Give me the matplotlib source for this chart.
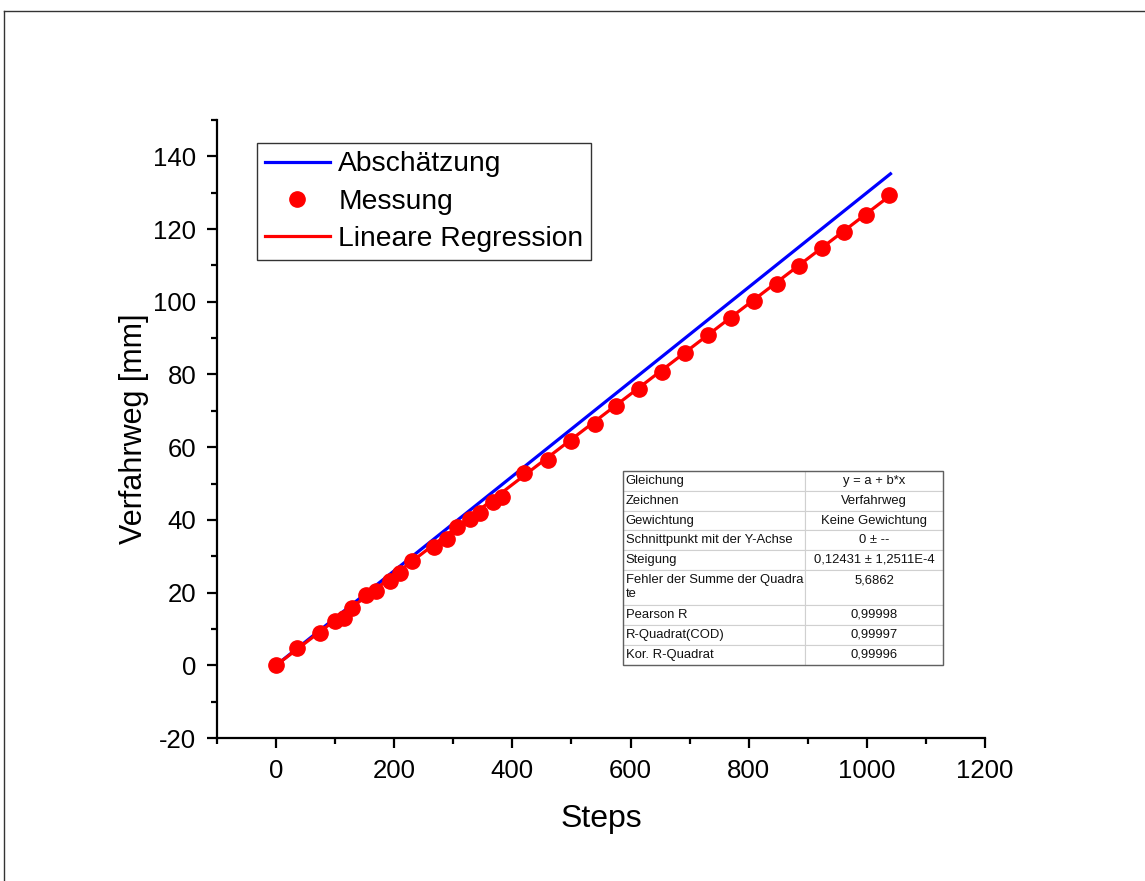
import matplotlib
matplotlib.use("Agg")
import matplotlib.pyplot as plt
from matplotlib.ticker import MultipleLocator
from matplotlib.lines import Line2D
from matplotlib.patches import Rectangle

plt.rcParams['font.family'] = ['Liberation Sans', 'DejaVu Sans']
plt.rcParams['axes.unicode_minus'] = False

# --- data ---
steps = [0, 35.6, 74.6, 100, 115, 129, 152.5, 169.5, 193, 210, 230.5, 268, 290, 307,
         329, 346, 368, 383, 420, 461, 500, 539, 576, 615, 652.5, 691.5, 730.5,
         769.5, 808.5, 847.5, 885, 924, 961, 998, 1037]
weg = [0, 4.7, 8.8, 12.2, 13.0, 15.7, 19.3, 20.4, 23.2, 25.4, 28.7, 32.6, 34.8, 38.1,
       40.3, 42.0, 45.0, 46.4, 53.0, 56.6, 61.6, 66.3, 71.2, 75.9, 80.6, 85.8, 90.8,
       95.5, 100.2, 104.9, 109.9, 114.9, 119.3, 124.0, 129.5]
est_x = [0, 1040]
est_y = [0, 135.2]
reg_slope = 0.12431
reg_x = [0, 1040]
reg_y = [reg_slope * v for v in reg_x]

table_labels = ["Gleichung", "Zeichnen", "Gewichtung", "Schnittpunkt mit der Y-Achse",
                "Steigung", "Fehler der Summe der Quadra\nte", "Pearson R",
                "R-Quadrat(COD)", "Kor. R-Quadrat"]
table_values = ["y = a + b*x", "Verfahrweg", "Keine Gewichtung", "0 \u00b1 --",
                "0,12431 \u00b1 1,2511E-4", "5,6862\n", "0,99998", "0,99997", "0,99996"]

W, H = 1145, 881
fig = plt.figure(figsize=(W / 100, H / 100), dpi=100)

# figure frame (top and left edges)
fig.add_artist(Line2D([4 / W, 4 / W], [0, 1 - 11 / H], transform=fig.transFigure,
                      color='#333333', lw=1.0))
fig.add_artist(Line2D([4 / W, 1], [1 - 11 / H, 1 - 11 / H], transform=fig.transFigure,
                      color='#333333', lw=1.0))

ax = fig.add_axes([217 / W, 1 - 738 / H, 768 / W, 618 / H])

ax.plot(est_x, est_y, color='#0000ff', lw=2.3, label='Abschätzung', zorder=3)
ax.plot(steps, weg, linestyle='none', marker='o', ms=11, color='#ff0000',
        label='Messung', zorder=4)
ax.plot(reg_x, reg_y, color='#ff0000', lw=2.3, label='Lineare Regression', zorder=3)

ax.set_xlim(-100, 1200)
ax.set_ylim(-20, 150)
ax.xaxis.set_major_locator(MultipleLocator(200))
ax.xaxis.set_minor_locator(MultipleLocator(100))
ax.yaxis.set_major_locator(MultipleLocator(20))
ax.yaxis.set_minor_locator(MultipleLocator(10))
ax.set_xticks([0, 200, 400, 600, 800, 1000, 1200])
ax.set_yticks([-20, 0, 20, 40, 60, 80, 100, 120, 140])

for s in ['top', 'right']:
    ax.spines[s].set_visible(False)
for s in ['left', 'bottom']:
    ax.spines[s].set_linewidth(1.6)
ax.tick_params(which='major', direction='out', length=7, width=1.6, labelsize=18.5, pad=8)
ax.tick_params(which='minor', direction='out', length=4, width=1.6)

ax.set_xlabel('Steps', fontsize=23, labelpad=15)
ax.set_ylabel('Verfahrweg [mm]', fontsize=22, labelpad=3)

leg = ax.legend(loc='upper left', bbox_to_anchor=(0.052, 0.962), fontsize=20.3,
                frameon=True, fancybox=False, edgecolor='black', handlelength=2.3,
                labelspacing=0.4, borderpad=0.28, handletextpad=0.3, borderaxespad=0)
leg.get_frame().set_linewidth(1.0)

# --- results table ---
rows = [[l, v] for l, v in zip(table_labels, table_values)]
tbl = ax.table(cellText=rows, colWidths=[182, 138], cellLoc='left',
               bbox=[(623 - 217) / 768, (738 - 665) / 618, 320 / 768, 194 / 618])
tbl.auto_set_font_size(False)
tbl.set_fontsize(9.4)
row_h = [20, 20, 19, 20, 19, 35, 20, 20, 20]
for (r, c), cell in tbl.get_celld().items():
    cell.set_height(row_h[r])
    cell.set_edgecolor('#d0d0d0')
    cell.set_linewidth(0.8)
    cell.get_text().set_color('#111111')
    if c == 1:
        cell._loc = 'center'
        cell.get_text().set_ha('center')
    else:
        cell.PAD = 0.015
tbl.set_zorder(6)
ax.add_patch(Rectangle(((623 - 217) / 768, (738 - 665) / 618), 320 / 768, 194 / 618,
                       transform=ax.transAxes, fill=False, edgecolor='#606060',
                       lw=1.0, zorder=7))

fig.savefig('out.png', dpi=100)
